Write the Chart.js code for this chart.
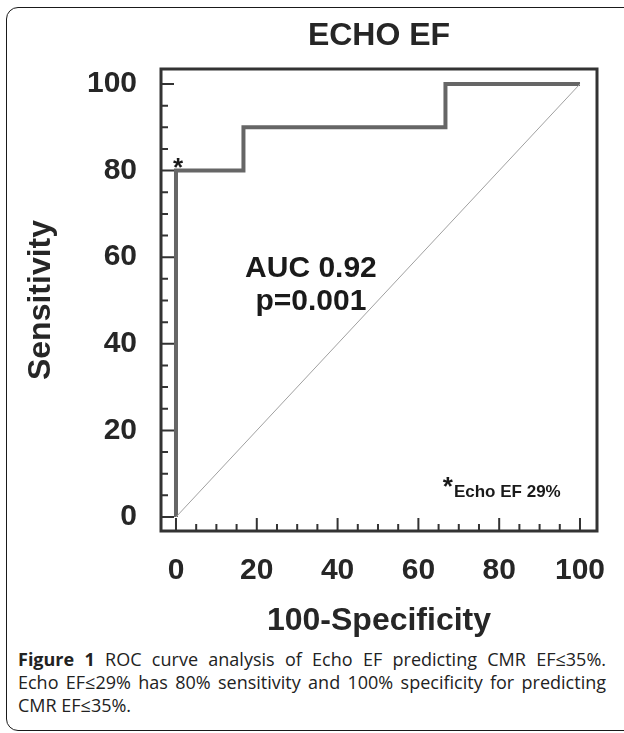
<!DOCTYPE html>
<html>
<head>
<meta charset="utf-8">
<script src="https://cdn.jsdelivr.net/npm/chart.js@4.4.1/dist/chart.umd.min.js"></script>
<style>
  html, body { margin: 0; padding: 0; background: #fff; width: 624px; height: 733px; overflow: hidden; position: relative; }
  #frame { position: absolute; left: 6px; top: 7px; width: 660px; height: 722px; border: 1.5px solid #1a1a1a; border-radius: 12px; }
  #chart { position: absolute; left: 0; top: 0; }
  #caption { position: absolute; left: 18px; top: 648px; width: 588px; font-family: "Open Sans"; font-size: 18px;
             line-height: 23px; color: #222; }
  #caption span { display: block; white-space: nowrap; }
  #caption .j { text-align: justify; text-align-last: justify; }
</style>
</head>
<body>
<div id="frame"></div>
<canvas id="chart" width="624" height="640"></canvas>
<div id="caption"><span class="j"><b>Figure 1</b> ROC curve analysis of Echo EF predicting CMR EF≤35%.</span><span class="j">Echo EF≤29% has 80% sensitivity and 100% specificity for predicting</span><span>CMR EF≤35%.</span></div>
<script>
// ROC curve points (100-specificity, sensitivity)
var rocX = [0, 0, 16.7, 16.7, 66.7, 66.7, 100];
var rocY = [0, 80, 80, 90, 90, 100, 100];
// reference diagonal
var refX = [0, 100];
var refY = [0, 100];

var majorTicks = [0, 20, 40, 60, 80, 100];
var minorTicks = [5, 10, 15, 25, 30, 35, 45, 50, 55, 65, 70, 75, 85, 90, 95];

var chartTitle = 'ECHO EF';
var xTitle = '100-Specificity';
var yTitle = 'Sensitivity';
var aucText = ['AUC 0.92', 'p=0.001'];
var cutText = 'Echo EF 29%';

var fam = '"Liberation Sans", Arial, sans-serif';
var ink = '#262626';

function pts(xs, ys) {
  var out = [];
  for (var i = 0; i < xs.length; i++) out.push({x: xs[i], y: ys[i]});
  return out;
}

// box round the plot, inward ticks and the text inside the plot
var framePlugin = {
  id: 'framePlugin',
  afterDatasetsDraw: function(chart) {
    var ctx = chart.ctx, a = chart.chartArea;
    var xs = chart.scales.x, ys = chart.scales.y;
    ctx.save();
    ctx.strokeStyle = '#333';
    ctx.lineWidth = 3;
    ctx.strokeRect(a.left, a.top, a.right - a.left, a.bottom - a.top);

    ctx.lineWidth = 2;
    ctx.beginPath();
    majorTicks.forEach(function(v) {
      var px = xs.getPixelForValue(v), py = ys.getPixelForValue(v);
      ctx.moveTo(px, a.bottom); ctx.lineTo(px, a.bottom - 13);
      ctx.moveTo(a.left, py); ctx.lineTo(a.left + 13, py);
    });
    minorTicks.forEach(function(v) {
      var px = xs.getPixelForValue(v), py = ys.getPixelForValue(v);
      ctx.moveTo(px, a.bottom); ctx.lineTo(px, a.bottom - 7);
      ctx.moveTo(a.left, py); ctx.lineTo(a.left + 7, py);
    });
    ctx.stroke();

    ctx.fillStyle = '#1a1a1a';
    ctx.textBaseline = 'alphabetic';
    ctx.textAlign = 'center';
    ctx.font = 'bold 30px ' + fam;
    ctx.fillText(aucText[0], xs.getPixelForValue(33.4), ys.getPixelForValue(55.4));
    ctx.fillText(aucText[1], xs.getPixelForValue(33.4), ys.getPixelForValue(47.8));

    // asterisk at the 29% cut-off point
    ctx.font = 'bold 26px ' + fam;
    ctx.fillText('*', xs.getPixelForValue(rocX[1]) + 2, ys.getPixelForValue(rocY[1]) + 5);
    ctx.fillText('*', xs.getPixelForValue(67.3), ys.getPixelForValue(5.1));
    ctx.textAlign = 'left';
    ctx.font = 'bold 17px ' + fam;
    ctx.fillText(cutText, xs.getPixelForValue(68.8), ys.getPixelForValue(4.6));
    ctx.restore();
  }
};

var tickFont = {family: fam, size: 30, weight: 'bold'};
var titleFont = {family: fam, size: 32, weight: 'bold'};

new Chart(document.getElementById('chart'), {
  type: 'line',
  data: {
    datasets: [{
      data: pts(refX, refY),
      borderColor: '#a0a0a0',
      borderWidth: 1,
      pointRadius: 0,
      fill: false
    }, {
      data: pts(rocX, rocY),
      borderColor: '#666',
      borderWidth: 4,
      borderJoinStyle: 'miter',
      pointRadius: 0,
      fill: false
    }]
  },
  options: {
    responsive: false,
    animation: false,
    layout: {padding: {left: 0, right: 27, top: 0, bottom: 0}},
    plugins: {
      legend: {display: false},
      tooltip: {enabled: false},
      title: {
        display: true, text: chartTitle, fullSize: false, color: ink,
        font: titleFont, padding: {top: 17, bottom: 13.6}
      }
    },
    scales: {
      x: {
        type: 'linear', min: -3.71, max: 104.21,
        afterBuildTicks: function(s) { s.ticks = majorTicks.map(function(v) { return {value: v}; }); },
        afterFit: function(s) { s.height = 109; },
        grid: {display: false}, border: {display: false},
        ticks: {padding: 14, font: tickFont, color: ink, maxRotation: 0, autoSkip: false},
        title: {display: true, text: xTitle, font: titleFont, color: ink, padding: {top: 0, bottom: 0}}
      },
      y: {
        type: 'linear', min: -3.23, max: 103.46,
        afterBuildTicks: function(s) { s.ticks = majorTicks.map(function(v) { return {value: v}; }); },
        afterFit: function(s) { s.width = 161; },
        grid: {display: false}, border: {display: false},
        ticks: {padding: 16, font: tickFont, color: ink, autoSkip: false},
        title: {display: true, text: yTitle, font: titleFont, color: ink, padding: {top: 22, bottom: 0}}
      }
    }
  },
  plugins: [framePlugin]
});
</script>
</body>
</html>
